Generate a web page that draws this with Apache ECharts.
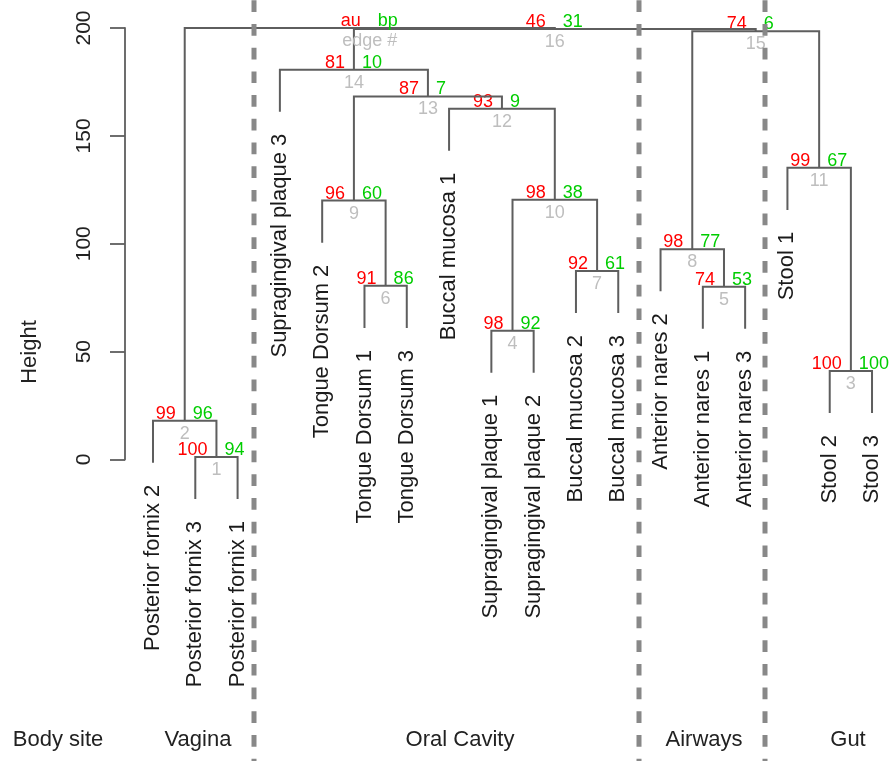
<!DOCTYPE html>
<html><head><meta charset="utf-8">
<script src="https://cdn.jsdelivr.net/npm/echarts@6/dist/echarts.min.js"></script>
<style>html,body{margin:0;padding:0;background:#fff}#c{width:893px;height:761px}</style>
</head><body><div id="c"></div>
<script>
// ---- data ----
const leafLabels = ['Posterior fornix 2','Posterior fornix 3','Posterior fornix 1','Supragingival plaque 3',
  'Tongue Dorsum 2','Tongue Dorsum 1','Tongue Dorsum 3','Buccal mucosa 1','Supragingival plaque 1',
  'Supragingival plaque 2','Buccal mucosa 2','Buccal mucosa 3','Anterior nares 2','Anterior nares 1',
  'Anterior nares 3','Stool 1','Stool 2','Stool 3'];
// negative = leaf (1-based position), positive = earlier merge (1-based)
const mergeLeft  = [-2, -1, -17, -9, -14, -6, -11, -13, -5, 4, -16, -8, 9, -4, 8, 14, 2];
const mergeRight = [-3,  1, -18, -10, -15, -7, -12, 5, 6, 7, 3, 10, 12, 13, 11, 15, 16];
const mergeHeight = [1.2, 18.0, 41.0, 59.7, 80.1, 80.5, 87.4, 97.5, 120.0, 120.4, 135.2, 162.6, 168.3, 180.7, 198.5, 199.5, 200.0];
const auValues = ['100','99','100','98','74','91','92','98','96','98','99','93','87','81','74','46','au'];
const bpValues = ['94','96','100','92','53','86','61','77','60','38','67','9','7','10','6','31','bp'];
const edgeIds  = ['1','2','3','4','5','6','7','8','9','10','11','12','13','14','15','16','edge #'];
const yTicks = [0, 50, 100, 150, 200];
const hang = 19.5;
const siteNames = ['Body site', 'Vagina', 'Oral Cavity', 'Airways', 'Gut'];

// ---- layout helpers ----
const FONT = '"Liberation Sans", Arial, Helvetica, sans-serif';
const LINE = '#5e5e5e';
const mergeX = [];
for (let i = 0; i < mergeHeight.length; i++) {
  const xl = mergeLeft[i] < 0 ? -mergeLeft[i] : mergeX[mergeLeft[i] - 1];
  const xr = mergeRight[i] < 0 ? -mergeRight[i] : mergeX[mergeRight[i] - 1];
  mergeX.push((xl + xr) / 2);
}
const leafEnd = new Array(leafLabels.length).fill(0);
for (let i = 0; i < mergeHeight.length; i++) {
  [mergeLeft[i], mergeRight[i]].forEach(r => { if (r < 0) leafEnd[-r - 1] = mergeHeight[i] - hang; });
}
function refX(r) { return r < 0 ? -r : mergeX[r - 1]; }
function refH(r, ph) { return r < 0 ? ph - hang : mergeHeight[r - 1]; }

const mergeData = mergeHeight.map((h, i) => [mergeX[i], h, i]);
const leafData = leafLabels.map((n, i) => [i + 1, leafEnd[i], i]);

const chart = echarts.init(document.getElementById('c'), null, {renderer: 'canvas'});
const option = {
  animation: false,
  backgroundColor: '#fff',
  grid: {left: 125, right: 0, top: 28, bottom: 301.5, containLabel: false, outerBoundsMode: 'none'},
  xAxis: {type: 'value', min: 0.338, max: 18.496, show: false},
  yAxis: {
    type: 'value', min: 0, max: 200, interval: 50,
    axisLine: {show: true, lineStyle: {color: LINE, width: 1.8}},
    axisTick: {show: true, length: 15, lineStyle: {color: LINE, width: 1.8}},
    axisLabel: {rotate: 90, margin: 30, fontSize: 21, color: '#222', fontFamily: FONT,
      formatter: v => yTicks.includes(v) ? String(v) : ''},
    splitLine: {show: false}
  },
  graphic: [
    {type: 'text', x: 30, y: 352, rotation: Math.PI / 2, z: 10,
      style: {text: 'Height', font: '22px ' + FONT, fill: '#222', align: 'center', verticalAlign: 'middle'}},
    ...[254, 639, 765].map(x => ({type: 'line', z: 100,
      shape: {x1: x, y1: 0.3, x2: x, y2: 761},
      style: {stroke: '#888', lineWidth: 5, lineDash: [11.7, 12]}})),
    ...[58, 198, 460, 704, 848].map((x, i) => ({type: 'text', x: x, y: 740, z: 10,
      style: {text: siteNames[i], font: '22px ' + FONT, fill: '#222', align: 'center', verticalAlign: 'middle'}}))
  ],
  series: [
    {
      type: 'custom', clip: false, z: 3,
      data: mergeData,
      renderItem: function (params, api) {
        const i = api.value(2);
        const h = mergeHeight[i];
        const l = mergeLeft[i], r = mergeRight[i];
        const p1 = api.coord([refX(l), refH(l, h)]);
        const p2 = api.coord([refX(l), h]);
        const p3 = api.coord([refX(r), h]);
        const p4 = api.coord([refX(r), refH(r, h)]);
        const c = api.coord([mergeX[i], h]);
        return {
          type: 'group',
          children: [
            {type: 'polyline', shape: {points: [p1, p2, p3, p4]},
              style: {stroke: LINE, lineWidth: 2, fill: null}},
            {type: 'text', x: c[0] - 9, y: c[1] + 2,
              style: {text: auValues[i], fill: '#FF0000', font: '18px ' + FONT, align: 'right', verticalAlign: 'bottom'}},
            {type: 'text', x: c[0] + 8, y: c[1] + 2,
              style: {text: bpValues[i], fill: '#00CD00', font: '18px ' + FONT, align: 'left', verticalAlign: 'bottom'}},
            {type: 'text', x: c[0], y: c[1] + 13,
              style: {text: edgeIds[i], fill: '#BEBEBE', font: '18px ' + FONT, align: 'center', verticalAlign: 'middle'}}
          ]
        };
      }
    },
    {
      type: 'custom', clip: false, z: 3,
      data: leafData,
      renderItem: function (params, api) {
        const i = api.value(2);
        const p = api.coord([api.value(0), api.value(1)]);
        return {type: 'text', x: p[0], y: p[1] + 22, rotation: Math.PI / 2,
          style: {text: leafLabels[i], fill: '#1a1a1a', font: '22px ' + FONT, align: 'right', verticalAlign: 'middle'}};
      }
    }
  ]
};
chart.setOption(option);
</script>
</body></html>
